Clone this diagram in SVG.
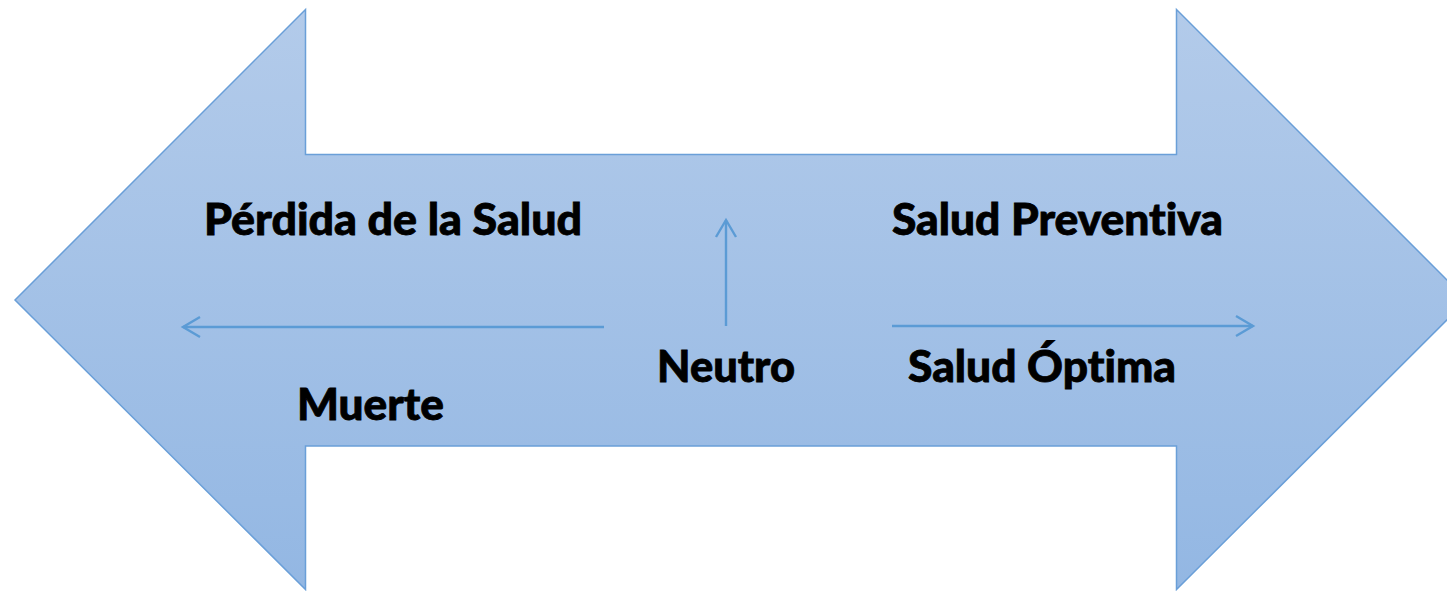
<svg xmlns="http://www.w3.org/2000/svg" width="1447" height="591" viewBox="0 0 1447 591">
<defs>
<linearGradient id="fillGrad" x1="0" y1="0" x2="0" y2="1">
<stop offset="0" stop-color="#b3cbea"/>
<stop offset="1" stop-color="#93b7e3"/>
</linearGradient>
<marker id="openArrow" markerWidth="22" markerHeight="24" viewBox="0 0 22 24" refX="19" refY="12" orient="auto" markerUnits="userSpaceOnUse">
<path d="M2,2 L19,12 L2,22" fill="none" stroke="#5b9bd5" stroke-width="2.4"/>
</marker>
<style>
.lbl{font-family:Lato,"Open Sans","Liberation Sans",sans-serif;font-weight:900;font-size:44px;fill:#000;stroke:#000;stroke-width:0.8;font-variant-ligatures:none}
.conn{stroke:#5b9bd5;stroke-width:2.4;fill:none;marker-end:url(#openArrow)}
</style>
</defs>
<g id="double-arrow">
<path d="M15,300 L305.5,9.5 L305.5,154.5 L1176.5,154.5 L1176.5,9.5 L1467,300 L1176.5,589.5 L1176.5,446 L305.5,446 L305.5,589.5 Z" fill="url(#fillGrad)" stroke="#6a9fd8" stroke-width="1.5"/>
</g>
<g id="connectors">
<line class="conn" x1="604" y1="327" x2="183" y2="327"/>
<line class="conn" x1="726" y1="326" x2="726" y2="220"/>
<line class="conn" x1="892" y1="326" x2="1253" y2="326"/>
</g>
<g id="perdida"><text class="lbl" x="204" y="235" textLength="378" lengthAdjust="spacingAndGlyphs">Pérdida de la Salud</text></g>
<g id="preventiva"><text class="lbl" x="892" y="235" textLength="331" lengthAdjust="spacingAndGlyphs">Salud Preventiva</text></g>
<g id="neutro"><text class="lbl" x="657" y="382" textLength="138" lengthAdjust="spacingAndGlyphs">Neutro</text></g>
<g id="optima"><text class="lbl" x="908" y="382" textLength="268" lengthAdjust="spacingAndGlyphs">Salud Óptima</text></g>
<g id="muerte"><text class="lbl" x="297" y="420" textLength="147" lengthAdjust="spacingAndGlyphs">Muerte</text></g>
</svg>
